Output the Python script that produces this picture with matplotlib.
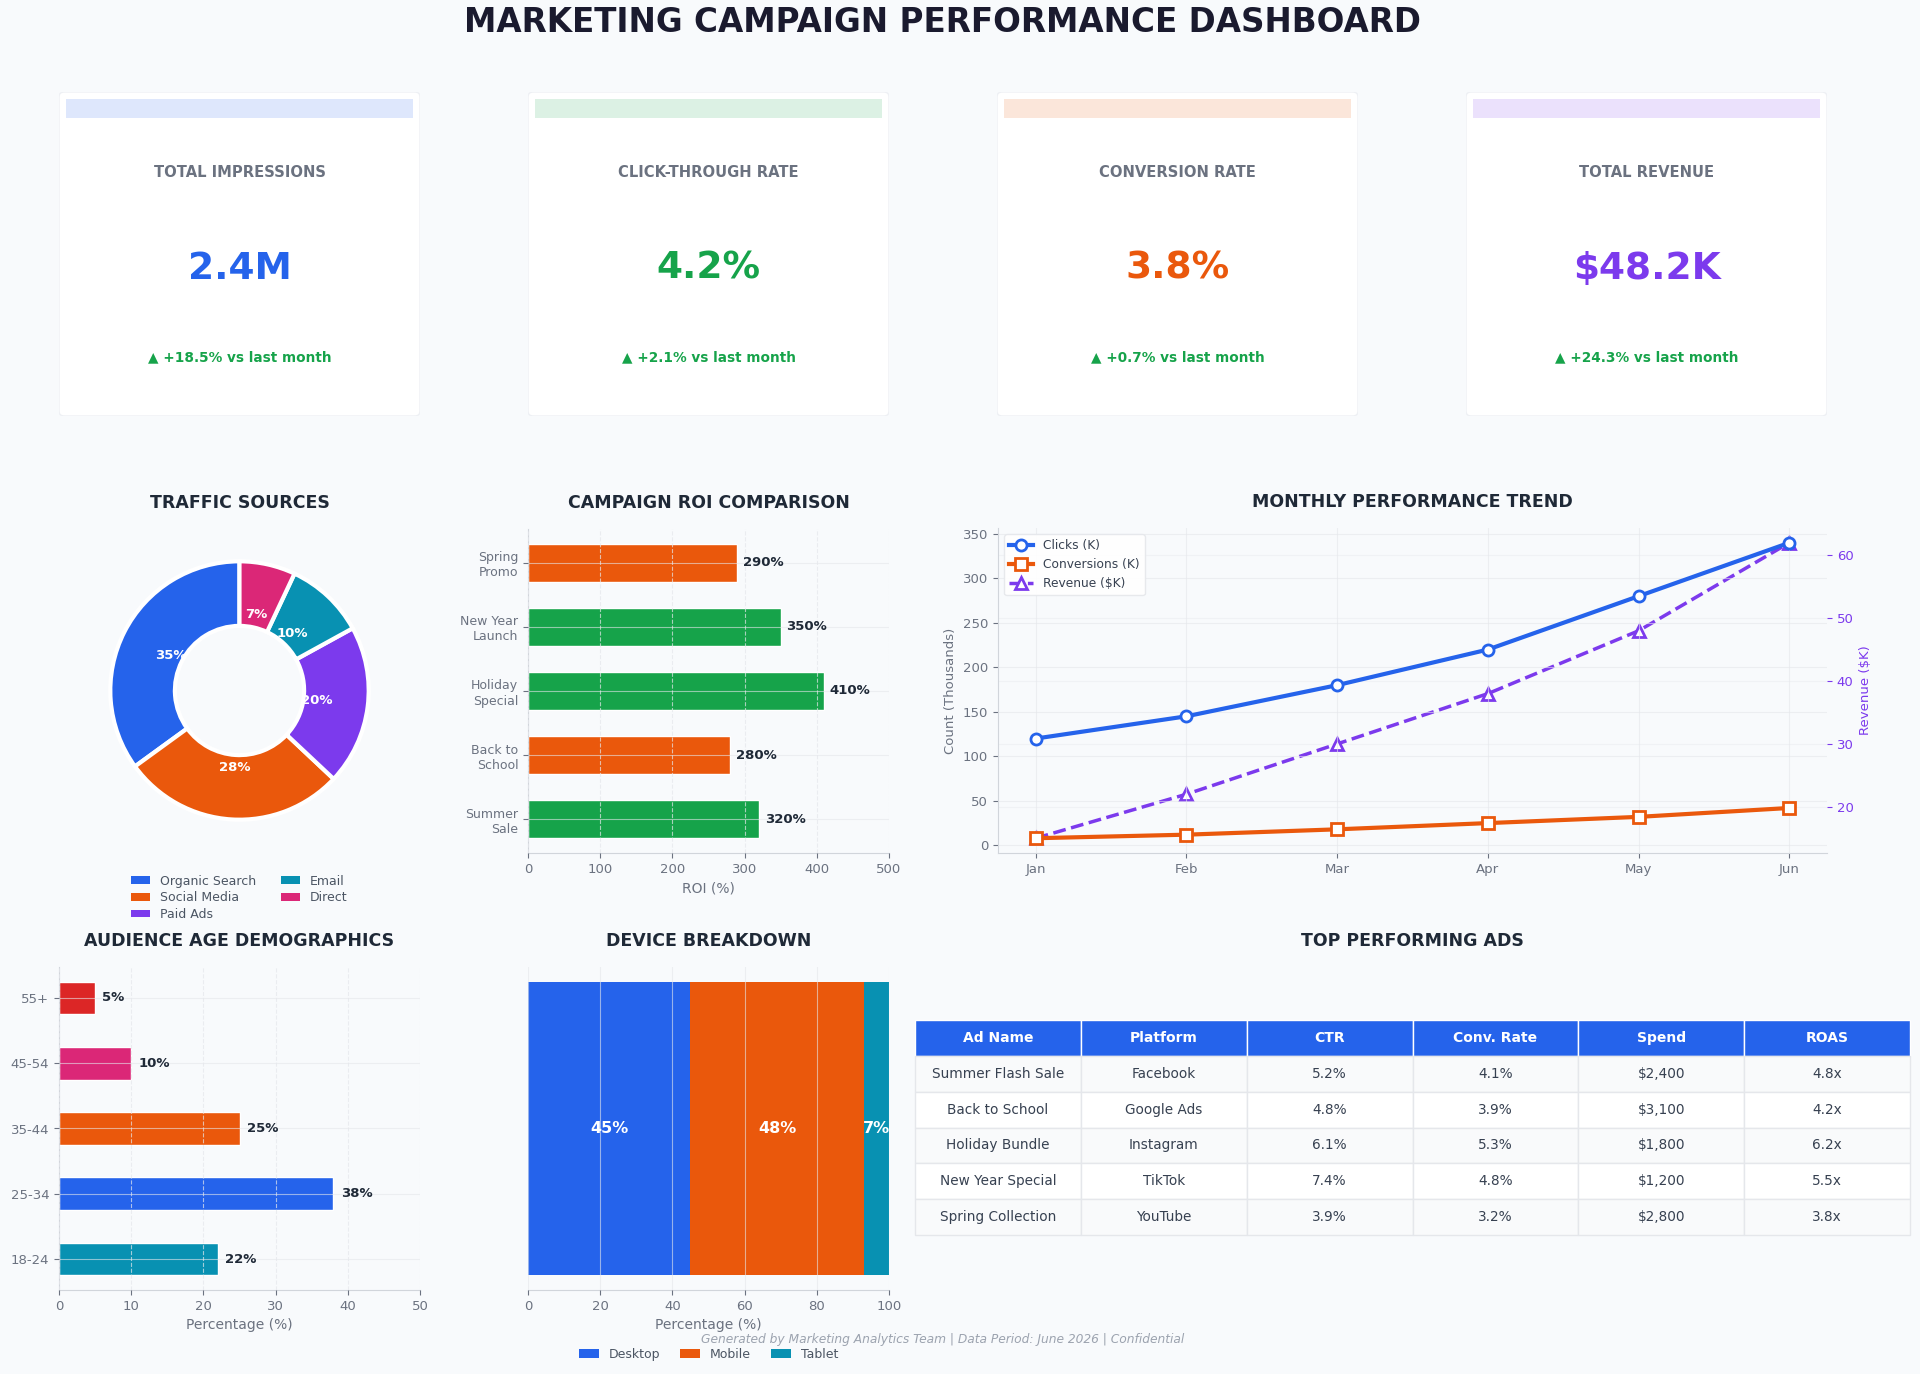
import matplotlib
matplotlib.use("Agg")
import matplotlib.pyplot as plt
from matplotlib.patches import FancyBboxPatch, Rectangle

# ---- data ----
kpi_titles = ["TOTAL IMPRESSIONS", "CLICK-THROUGH RATE", "CONVERSION RATE", "TOTAL REVENUE"]
kpi_values = ["2.4M", "4.2%", "3.8%", "$48.2K"]
kpi_changes = ["+18.5%", "+2.1%", "+0.7%", "+24.3%"]

traffic_labels = ["Organic Search", "Social Media", "Paid Ads", "Email", "Direct"]
traffic_shares = [35, 28, 20, 10, 7]

campaigns = ["Spring\nPromo", "New Year\nLaunch", "Holiday\nSpecial", "Back to\nSchool", "Summer\nSale"]
campaign_roi = [290, 350, 410, 280, 320]

months = ["Jan", "Feb", "Mar", "Apr", "May", "Jun"]
clicks = [120, 145, 180, 220, 280, 340]
conversions = [8, 12, 18, 25, 32, 42]
revenue = [15, 22, 30, 38, 48, 62]

age_groups = ["18-24", "25-34", "35-44", "45-54", "55+"]
age_share = [22, 38, 25, 10, 5]

devices = ["Desktop", "Mobile", "Tablet"]
device_share = [45, 48, 7]

table_columns = ["Ad Name", "Platform", "CTR", "Conv. Rate", "Spend", "ROAS"]
ad_names = ["Summer Flash Sale", "Back to School", "Holiday Bundle", "New Year Special", "Spring Collection"]
ad_platforms = ["Facebook", "Google Ads", "Instagram", "TikTok", "YouTube"]
ad_ctr = ["5.2%", "4.8%", "6.1%", "7.4%", "3.9%"]
ad_conv = ["4.1%", "3.9%", "5.3%", "4.8%", "3.2%"]
ad_spend = ["$2,400", "$3,100", "$1,800", "$1,200", "$2,800"]
ad_roas = ["4.8x", "4.2x", "6.2x", "5.5x", "3.8x"]

# ---- style ----
BG = "#f8fafc"
BLUE = "#2563eb"
ORANGE = "#ea580c"
PURPLE = "#7c3aed"
TEAL = "#0891b2"
PINK = "#db2777"
GREEN = "#16a34a"
RED = "#dc2626"
GRAY = "#6b7280"
DARK = "#1f2937"
GRID = "#e5e7eb"

kpi_colors = [BLUE, GREEN, ORANGE, PURPLE]
traffic_colors = [BLUE, ORANGE, PURPLE, TEAL, PINK]
age_colors = [TEAL, BLUE, ORANGE, PINK, RED]
device_colors = [BLUE, ORANGE, TEAL]

W, H = 1920, 1374


def px_axes(fig, x0, y0, x1, y1):
    """Add axes from pixel box (top-left origin)."""
    return fig.add_axes([x0 / W, 1 - y1 / H, (x1 - x0) / W, (y1 - y0) / H])


def style_axes(ax):
    ax.set_facecolor(BG)
    for s in ["top", "right"]:
        ax.spines[s].set_visible(False)
    for s in ["left", "bottom"]:
        ax.spines[s].set_color("#d1d5db")
    ax.tick_params(colors=GRAY, labelsize=9.5)


def section_title(ax, text):
    ax.set_title(text, fontsize=12.5, fontweight="bold", color=DARK, pad=15)


def draw_kpis(fig):
    for i in range(4):
        x0 = 59 + i * 469
        ax = px_axes(fig, x0, 92, x0 + 361, 416)
        ax.set_xlim(0, 1)
        ax.set_ylim(0, 1)
        ax.axis("off")
        ax.add_patch(FancyBboxPatch((0.0, 0.0), 1.0, 1.0,
                                    boxstyle="round,pad=0,rounding_size=0.015",
                                    facecolor="white", edgecolor="#eef0f4",
                                    linewidth=1, transform=ax.transAxes))
        ax.add_patch(Rectangle((0.02, 0.92), 0.96, 0.058, facecolor=kpi_colors[i],
                               alpha=0.15, edgecolor="none"))
        ax.text(0.5, 0.753, kpi_titles[i], ha="center", va="center",
                fontsize=10.6, fontweight="bold", color=GRAY)
        ax.text(0.5, 0.455, kpi_values[i], ha="center", va="center",
                fontsize=27, fontweight="bold", color=kpi_colors[i])
        ax.text(0.5, 0.182, "\u25b2 " + kpi_changes[i] + " vs last month",
                ha="center", va="center", fontsize=9.8, fontweight="bold", color=GREEN)


def draw_traffic(fig):
    ax = px_axes(fig, 78, 529, 401, 852)
    ax.set_facecolor(BG)
    wedges, _, autotexts = ax.pie(traffic_shares, colors=traffic_colors, startangle=90,
                                  autopct="%1.0f%%", pctdistance=0.6,
                                  wedgeprops=dict(width=0.5, edgecolor="white", linewidth=3))
    for t in autotexts:
        t.set_color("white")
        t.set_fontweight("bold")
        t.set_fontsize(9.5)
    section_title(ax, "TRAFFIC SOURCES")
    leg = ax.legend(wedges, traffic_labels, loc="upper center", bbox_to_anchor=(0.5, -0.035),
                    ncol=2, frameon=False, fontsize=9, labelcolor="#4b5563",
                    handlelength=1.5, handleheight=0.55, columnspacing=2.0, labelspacing=0.3)
    for h in leg.legend_handles:
        h.set_edgecolor("none")


def draw_roi(fig):
    ax = px_axes(fig, 528, 529, 889, 853)
    style_axes(ax)
    y = list(range(len(campaigns)))[::-1]
    colors = [GREEN if v > 300 else ORANGE for v in campaign_roi]
    ax.barh(y, campaign_roi, height=0.6, color=colors, edgecolor="white", linewidth=1, zorder=1)
    for yi, v in zip(y, campaign_roi):
        ax.text(v + 8, yi, f"{v}%", va="center", ha="left", fontsize=9.5,
                fontweight="bold", color=DARK, zorder=3)
    ax.set_yticks(y)
    ax.set_yticklabels(campaigns, fontsize=9)
    ax.set_xlim(0, 500)
    ax.set_xlabel("ROI (%)", color=GRAY, fontsize=10)
    ax.grid(axis="x", color="#e5e7eb", linestyle="--", alpha=0.7, zorder=2)
    ax.grid(axis="y", color="#e5e7eb", alpha=0.6, zorder=2)
    ax.set_axisbelow(False)
    section_title(ax, "CAMPAIGN ROI COMPARISON")


def draw_trend(fig):
    ax = px_axes(fig, 998, 528, 1827, 853)
    style_axes(ax)
    x = list(range(len(months)))
    ax.plot(x, clicks, color=BLUE, lw=3, marker="o", ms=8, mfc="white", mew=2,
            label="Clicks (K)", zorder=3)
    ax.plot(x, conversions, color=ORANGE, lw=3, marker="s", ms=8, mfc="white", mew=2,
            label="Conversions (K)", zorder=3)
    ax2 = ax.twinx()
    ax2.plot(x, revenue, color=PURPLE, lw=2.5, ls="--", marker="^", ms=9, mfc="white",
             mew=2, label="Revenue ($K)", zorder=3)
    ax.set_xticks(x)
    ax.set_xticklabels(months)
    ax.set_xlim(-0.25, 5.25)
    ax.set_ylabel("Count (Thousands)", color=GRAY, fontsize=9.5)
    ax2.set_ylabel("Revenue ($K)", color=PURPLE, fontsize=9.5)
    ax2.tick_params(axis="y", colors=PURPLE, labelsize=9.5)
    for s in ["top", "right", "left", "bottom"]:
        ax2.spines[s].set_visible(False)
    ax.grid(True, color=GRID, alpha=0.6)
    ax2.grid(True, axis="y", color=GRID, alpha=0.4)
    h1, l1 = ax.get_legend_handles_labels()
    h2, l2 = ax2.get_legend_handles_labels()
    leg = ax.legend(h1 + h2, l1 + l2, loc="upper left", fontsize=8.8, frameon=True,
                    facecolor="white", edgecolor=GRID, framealpha=0.9, labelcolor="#374151")
    leg.set_zorder(10)
    ax.set_zorder(ax2.get_zorder() + 1)
    ax.patch.set_visible(False)
    ax2.patch.set_facecolor(BG)
    section_title(ax, "MONTHLY PERFORMANCE TREND")


def draw_age(fig):
    ax = px_axes(fig, 59, 967, 420, 1290)
    style_axes(ax)
    y = list(range(len(age_groups)))
    ax.barh(y, age_share, height=0.5, color=age_colors, edgecolor="white", linewidth=1, zorder=1)
    for yi, v in zip(y, age_share):
        ax.text(v + 1, yi, f"{v}%", va="center", ha="left", fontsize=9.5,
                fontweight="bold", color=DARK, zorder=3)
    ax.set_yticks(y)
    ax.set_yticklabels(age_groups)
    ax.set_xlim(0, 50)
    ax.set_xlabel("Percentage (%)", color=GRAY, fontsize=10)
    ax.grid(axis="x", color="#e5e7eb", linestyle="--", alpha=0.7, zorder=2)
    ax.grid(axis="y", color="#e5e7eb", alpha=0.6, zorder=2)
    ax.set_axisbelow(False)
    section_title(ax, "AUDIENCE AGE DEMOGRAPHICS")


def draw_devices(fig):
    ax = px_axes(fig, 528, 967, 889, 1290)
    style_axes(ax)
    left = 0
    for name, v, c in zip(devices, device_share, device_colors):
        ax.barh([0], [v], left=left, color=c, height=0.6, label=name, zorder=1)
        ax.text(left + v / 2, 0, f"{v}%", ha="center", va="center", fontsize=11.5,
                fontweight="bold", color="white", zorder=3)
        left += v
    ax.set_xlim(0, 100)
    ax.set_yticks([])
    ax.spines["left"].set_visible(False)
    ax.set_xlabel("Percentage (%)", color=GRAY, fontsize=10)
    ax.grid(axis="x", color="#e5e7eb", alpha=0.6, zorder=2)
    ax.set_axisbelow(False)
    ax.legend(loc="upper center", bbox_to_anchor=(0.5, -0.145), ncol=3, frameon=False,
              fontsize=9, labelcolor="#4b5563", handlelength=1.6, columnspacing=1.6)
    section_title(ax, "DEVICE BREAKDOWN")


def draw_table(fig):
    ax = px_axes(fig, 915, 967, 1910, 1290)
    ax.axis("off")
    rows = [list(r) for r in zip(ad_names, ad_platforms, ad_ctr, ad_conv, ad_spend, ad_roas)]
    tbl = ax.table(cellText=rows, colLabels=table_columns, cellLoc="center",
                   bbox=[0, 0.17, 1, 0.666])
    tbl.auto_set_font_size(False)
    tbl.set_fontsize(9.8)
    for (r, c), cell in tbl.get_celld().items():
        cell.set_linewidth(1)
        if r == 0:
            cell.set_facecolor(BLUE)
            cell.set_edgecolor("white")
            cell.get_text().set_color("white")
            cell.get_text().set_fontweight("bold")
            cell.get_text().set_fontsize(10)
        else:
            cell.set_edgecolor(GRID)
            cell.set_facecolor("#f9fafb" if r % 2 == 1 else "white")
            cell.get_text().set_color("#374151")
    section_title(ax, "TOP PERFORMING ADS")


def main():
    fig = plt.figure(figsize=(W / 100, H / 100), dpi=100, facecolor=BG)
    fig.text(0.491, 1 - 23 / H, "MARKETING CAMPAIGN PERFORMANCE DASHBOARD",
             ha="center", va="center", fontsize=23.5, fontweight="bold", color="#1a1a2e")
    draw_kpis(fig)
    draw_traffic(fig)
    draw_roi(fig)
    draw_trend(fig)
    draw_age(fig)
    draw_devices(fig)
    draw_table(fig)
    fig.text(0.491, 1 - 1340 / H,
             "Generated by Marketing Analytics Team | Data Period: June 2026 | Confidential",
             ha="center", va="center", fontsize=8.8, style="italic", color="#9ca3af")
    fig.savefig("out.png", dpi=100, facecolor=BG)
    plt.close(fig)


if __name__ == "__main__":
    main()
